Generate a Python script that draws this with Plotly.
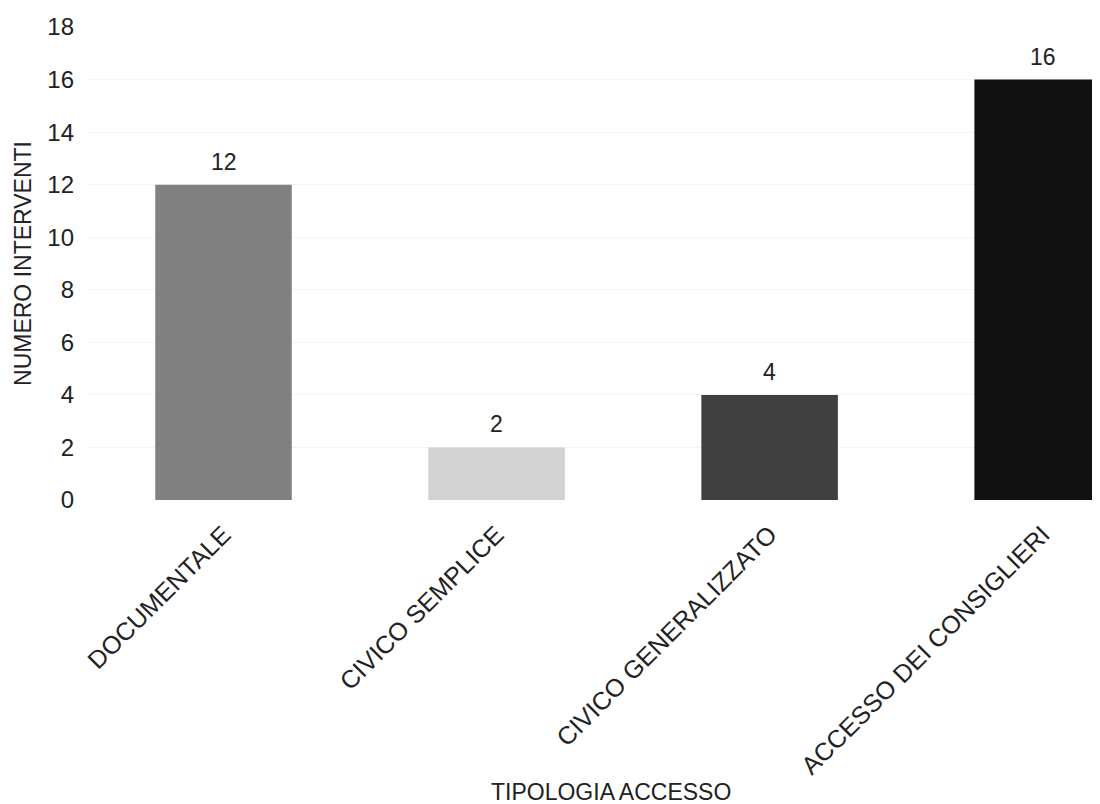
import plotly.graph_objects as go

categories = ["DOCUMENTALE", "CIVICO SEMPLICE", "CIVICO GENERALIZZATO", "ACCESSO DEI CONSIGLIERI"]
values = [12, 2, 4, 16]
colors = ["#808080", "#d2d2d2", "#404040", "#111111"]
y_ticks = [0, 2, 4, 6, 8, 10, 12, 14, 16, 18]

# page renders figure at an 8px body offset; compensate
W, H = 1092, 796
L, T, B = 79, 19, 304
plot_w = W - L
plot_h = H - T - B

fig = go.Figure(go.Bar(
    x=categories, y=values,
    marker=dict(color=colors, line=dict(width=0)),
    width=0.5,
))

value_labels = [dict(
    x=c, y=v, text=str(v), xref="x", yref="y",
    xanchor="center", yanchor="bottom", yshift=8,
    showarrow=False, font=dict(size=23, color="#222222"),
) for c, v in zip(categories, values)]

fig.update_layout(
    width=W, height=H,
    margin=dict(l=L, r=0, t=T, b=B, pad=0),
    paper_bgcolor="white", plot_bgcolor="white",
    font=dict(family="Liberation Sans, Arial, sans-serif", color="#222222"),
    showlegend=False,
    xaxis=dict(
        range=[-0.5, 3.21], tickangle=-45,
        tickfont=dict(size=25), showgrid=False, showline=False, zeroline=False,
        ticks="", ticklabelstandoff=14,
    ),
    yaxis=dict(
        range=[0, 18], tickvals=y_ticks, tickfont=dict(size=24),
        showgrid=True, gridcolor="#f4f4f4", zeroline=False, showline=False,
        ticks="", ticklabelstandoff=12,
        title=dict(text="NUMERO INTERVENTI", font=dict(size=23), standoff=9),
    ),
    annotations=value_labels + [dict(
        text="TIPOLOGIA ACCESSO", xref="paper", yref="paper",
        x=(603 - L) / plot_w, y=-(784 - (T + plot_h)) / plot_h,
        xanchor="center", yanchor="middle",
        showarrow=False, font=dict(size=23),
    )],
)

fig.write_html("out.html")
